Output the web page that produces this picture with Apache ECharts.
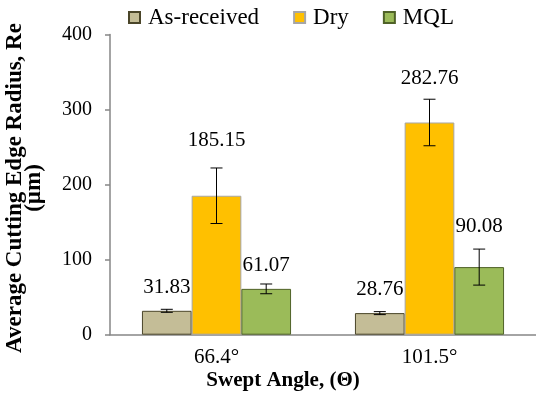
<!DOCTYPE html>
<html>
<head>
<meta charset="utf-8">
<script src="https://cdn.jsdelivr.net/npm/echarts@6/dist/echarts.min.js"></script>
<style>
  html, body { margin: 0; padding: 0; background: #fff; }
  #chart { width: 536px; height: 398px; }
</style>
</head>
<body>
<div id="chart"></div>
<script>
// Swept angle categories
const categories = ['66.4°', '101.5°'];

// Average cutting edge radius (µm) per condition
const asReceived = [31.83, 28.76];
const dry = [185.15, 282.76];
const mql = [61.07, 90.08];

// Error bar half-widths (µm)
const asReceivedErr = [2, 2];
const dryErr = [37, 31];
const mqlErr = [6.5, 24];

// Axis ticks
const yTicks = { min: 0, max: 400, interval: 100 };

// Label distances above each bar (px), so labels clear the error bars
const asReceivedLabelGap = [13, 13];
const dryLabelGap = [45, 34];
const mqlLabelGap = [13, 30];

const FONT = 'Liberation Serif';
const CAT_GAP = 0.30;

const chart = echarts.init(document.getElementById('chart'), null, { renderer: 'canvas' });

function barData(values, gaps) {
  return values.map((v, i) => ({ value: v, label: { distance: gaps[i] } }));
}

function errorSeries(name, values, errs, slot) {
  return {
    type: 'custom',
    name: name + ' error',
    z: 5,
    silent: true,
    legendHoverLink: false,
    data: values.map((v, i) => [i, v, errs[i]]),
    renderItem: function (params, api) {
      const idx = api.value(0);
      const val = api.value(1);
      const err = api.value(2);
      const band = api.size([1, 0])[0];
      const barW = band * (1 - CAT_GAP) / 3;
      const center = api.coord([idx, val]);
      const x = center[0] + (slot - 1) * barW;
      const yTop = api.coord([idx, val + err])[1];
      const yBot = api.coord([idx, val - err])[1];
      const cap = 6;
      const style = { stroke: '#000', lineWidth: 1, fill: null };
      return {
        type: 'group',
        children: [
          { type: 'line', shape: { x1: x, y1: yTop, x2: x, y2: yBot }, style: style },
          { type: 'line', shape: { x1: x - cap, y1: yTop, x2: x + cap, y2: yTop }, style: style },
          { type: 'line', shape: { x1: x - cap, y1: yBot, x2: x + cap, y2: yBot }, style: style }
        ]
      };
    }
  };
}

const labelStyle = {
  show: true,
  position: 'top',
  formatter: '{c}',
  fontFamily: FONT,
  fontSize: 21,
  color: '#000'
};

const option = {
  animation: false,
  backgroundColor: '#fff',
  textStyle: { fontFamily: FONT },
  grid: { left: 110, top: 34.5, width: 429, height: 300.2, containLabel: false },
  legend: {
    data: ['As-received', 'Dry', 'MQL'],
    left: 128,
    top: 6,
    padding: 0,
    itemWidth: 11,
    itemHeight: 11,
    itemGap: 34,
    icon: 'rect',
    textStyle: { fontFamily: FONT, fontSize: 23, color: '#000', padding: [0, 0, 0, 3] }
  },
  xAxis: {
    type: 'category',
    data: categories,
    axisLine: { show: true, lineStyle: { color: '#868686', width: 1.5 } },
    axisTick: { show: false },
    axisLabel: { fontFamily: FONT, fontSize: 21, color: '#000', margin: 12 },
    splitLine: { show: false }
  },
  yAxis: {
    type: 'value',
    min: yTicks.min,
    max: yTicks.max,
    interval: yTicks.interval,
    axisLine: { show: true, lineStyle: { color: '#868686', width: 1.5 } },
    axisTick: { show: true, length: 5, lineStyle: { color: '#868686', width: 1.5 } },
    axisLabel: { fontFamily: FONT, fontSize: 20, color: '#000', margin: 18 },
    splitLine: { show: false }
  },
  graphic: [
    {
      type: 'text',
      x: 283,
      y: 381,
      style: {
        text: 'Swept Angle, (Θ)',
        align: 'center',
        verticalAlign: 'middle',
        fontFamily: FONT,
        fontWeight: 'bold',
        fontSize: 21,
        fill: '#000'
      }
    },
    {
      type: 'text',
      x: 25,
      y: 188,
      rotation: Math.PI / 2,
      style: {
        text: 'Average Cutting Edge Radius, Re\n(µm)',
        align: 'center',
        verticalAlign: 'middle',
        fontFamily: FONT,
        fontWeight: 'bold',
        fontSize: 23,
        lineHeight: 19,
        fill: '#000'
      }
    }
  ],
  series: [
    {
      name: 'As-received',
      type: 'bar',
      barGap: '0%',
      barCategoryGap: (CAT_GAP * 100) + '%',
      itemStyle: { color: '#c4bd97', borderColor: '#4a4529', borderWidth: 1 },
      label: labelStyle,
      data: barData(asReceived, asReceivedLabelGap)
    },
    {
      name: 'Dry',
      type: 'bar',
      barGap: '0%',
      barCategoryGap: (CAT_GAP * 100) + '%',
      itemStyle: { color: '#ffc000', borderColor: '#a6a6a6', borderWidth: 1 },
      label: labelStyle,
      data: barData(dry, dryLabelGap)
    },
    {
      name: 'MQL',
      type: 'bar',
      barGap: '0%',
      barCategoryGap: (CAT_GAP * 100) + '%',
      itemStyle: { color: '#9bbb59', borderColor: '#4f6228', borderWidth: 1 },
      label: labelStyle,
      data: barData(mql, mqlLabelGap)
    },
    errorSeries('As-received', asReceived, asReceivedErr, 0),
    errorSeries('Dry', dry, dryErr, 1),
    errorSeries('MQL', mql, mqlErr, 2)
  ]
};

chart.setOption(option);
</script>
</body>
</html>
